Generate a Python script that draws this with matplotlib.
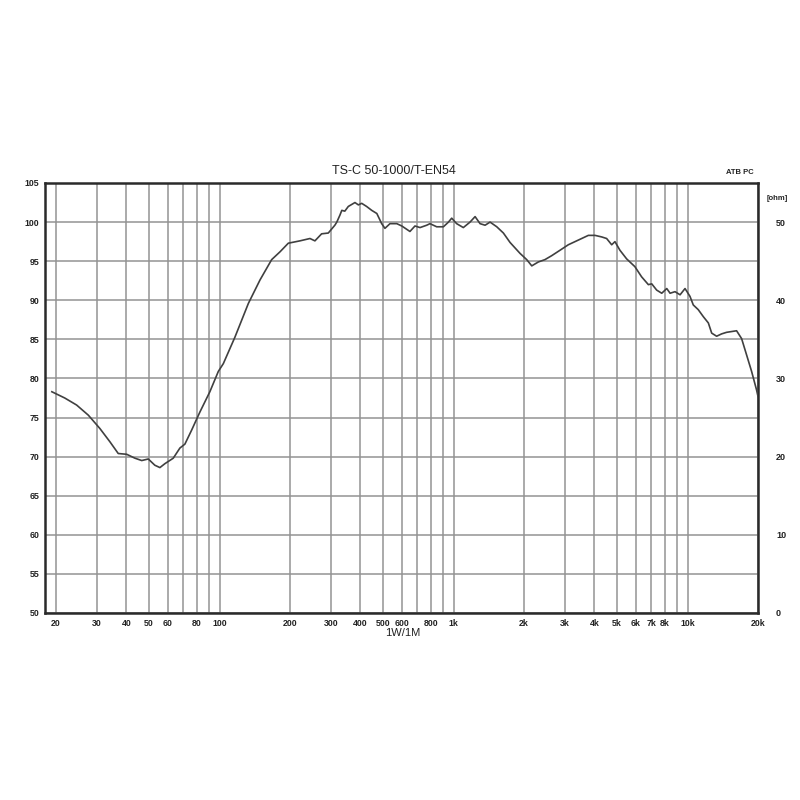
import matplotlib
matplotlib.use("Agg")
import matplotlib.pyplot as plt
import numpy as np

# frequency response (Hz, dB SPL)
freq = [19.2, 21.8, 24.5, 27.5, 30.8, 34.0, 36.9, 40.1, 43.5, 46.5, 49.6, 52.9, 55.6,
        58.4, 63.4, 67.7, 71.1, 76.0, 82.4, 90.9, 98.8, 103.8, 116.4, 132.8, 148.9,
        167.0, 181.3, 196.7, 220.6, 243.4, 255.6, 273, 291.5, 311, 317, 327, 333, 343,
        355, 379, 392, 405, 425, 447, 470, 493, 509, 535, 572, 601, 651, 684, 719, 768,
        793, 847, 905, 951, 982, 1031, 1101, 1176, 1236, 1298, 1364, 1432, 1530, 1633,
        1743, 1923, 2054, 2159, 2303, 2458, 2625, 2851, 3093, 3303, 3528, 3767, 4024,
        4298, 4510, 4740, 4895, 5140, 5489, 5955, 6362, 6800, 7030, 7380, 7757, 8150,
        8420, 8840, 9290, 9754, 10240, 10580, 11110, 11680, 12270, 12680, 13310, 13980,
        14680, 15420, 16200, 17020, 17880, 18780, 19730, 20000]
spl = [78.3, 77.5, 76.6, 75.3, 73.6, 71.9, 70.4, 70.3, 69.8, 69.5, 69.7, 68.9, 68.6,
       69.1, 69.8, 71.1, 71.6, 73.4, 75.7, 78.3, 80.9, 81.9, 85.3, 89.6, 92.6,
       95.2, 96.2, 97.3, 97.6, 97.9, 97.6, 98.5, 98.6, 99.6, 100.0, 100.9, 101.5, 101.4,
       102.0, 102.5, 102.2, 102.4, 102.0, 101.5, 101.1, 99.8, 99.2, 99.8, 99.8, 99.5, 98.8, 99.5, 99.3, 99.6,
       99.8, 99.4, 99.4, 100.0, 100.5, 99.8, 99.3, 100.0, 100.7, 99.8, 99.6, 100.0, 99.4, 98.6,
       97.4, 96.0, 95.2, 94.4, 94.9, 95.2, 95.7, 96.4, 97.1, 97.5, 97.9, 98.3, 98.3,
       98.1, 97.9, 97.1, 97.5, 96.4, 95.3, 94.3, 93.0, 92.0, 92.1, 91.3, 90.9, 91.5,
       90.9, 91.1, 90.7, 91.5, 90.5, 89.4, 88.8, 87.9, 87.1, 85.8, 85.4, 85.7,
       85.9, 86.0, 86.1, 85.1, 83.0, 80.9, 78.5, 77.7]

grid_freqs = [20, 30, 40, 50, 60, 70, 80, 90, 100, 200, 300, 400, 500, 600, 700, 800,
              900, 1000, 2000, 3000, 4000, 5000, 6000, 7000, 8000, 9000, 10000, 20000]
grid_labels = ["20", "30", "40", "50", "60", "", "80", "", "100", "200", "300", "400",
               "500", "600", "", "800", "", "1k", "2k", "3k", "4k", "5k", "6k", "7k",
               "8k", "", "10k", "20k"]
db_ticks = [50, 55, 60, 65, 70, 75, 80, 85, 90, 95, 100, 105]
ohm_ticks = [0, 10, 20, 30, 40, 50]

plt.rcParams['font.family'] = ['Liberation Sans', 'DejaVu Sans']

fig = plt.figure(figsize=(8, 8), dpi=100)
ax = fig.add_axes([0.05625, 0.23375, 0.89125, 0.5375])

ax.plot(freq, spl, color='#404040', lw=1.2, zorder=3)

ax.set_xscale('log')
ax.set_xlim(17.95, 20000)
ax.set_ylim(50, 105)
ax.set_xticks(grid_freqs)
ax.set_xticklabels(grid_labels)
ax.xaxis.set_minor_locator(matplotlib.ticker.NullLocator())
ax.set_yticks(db_ticks)
ax.grid(True, color='#939393', lw=1.1)
ax.tick_params(length=0, labelsize=6.3, pad=4)
for lab in ax.get_xticklabels() + ax.get_yticklabels():
    lab.set_fontweight('bold')
    lab.set_color('#222222')
for sp in ax.spines.values():
    sp.set_color('#2a2a2a')
    sp.set_linewidth(1.8)

ax2 = ax.twinx()
ax2.set_ylim(0, 55)
ax2.set_yticks(ohm_ticks)
ax2.tick_params(length=0, labelsize=6.5, pad=13)
for lab in ax2.get_yticklabels():
    lab.set_fontweight('bold')
    lab.set_color('#222222')
for sp in ax2.spines.values():
    sp.set_visible(False)

fig.text(0.492, 0.786, "TS-C 50-1000/T-EN54", ha='center', va='center',
         fontsize=9, color='#222222')
fig.text(0.925, 0.785, "ATB PC", ha='center', va='center', fontsize=5.5,
         fontweight='bold', color='#222222')
fig.text(0.971, 0.752, "[ohm]", ha='center', va='center', fontsize=5.5,
         fontweight='bold', color='#222222')
fig.text(0.504, 0.209, "1W/1M", ha='center', va='center', fontsize=8,
         color='#222222')

fig.savefig("out.png", dpi=100, facecolor='white')
